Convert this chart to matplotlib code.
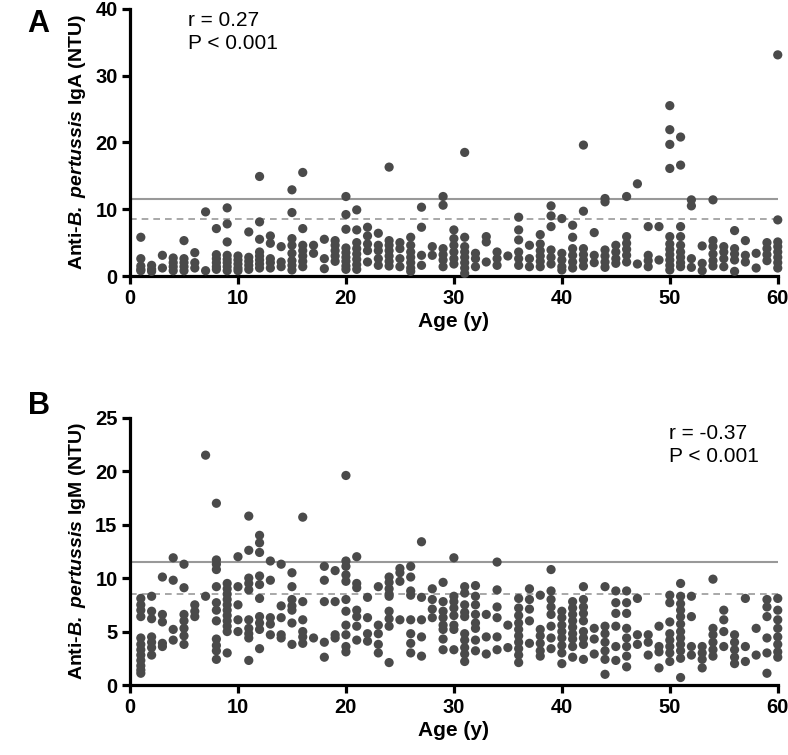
import matplotlib
matplotlib.use("Agg")
import matplotlib.pyplot as plt

plt.rcParams['font.family'] = ['Liberation Sans', 'DejaVu Sans']
plt.rcParams['mathtext.fontset'] = 'custom'
plt.rcParams['mathtext.rm'] = 'Liberation Sans:bold'
plt.rcParams['mathtext.bf'] = 'Liberation Sans:bold'
plt.rcParams['mathtext.bfit'] = 'Liberation Sans:italic:bold'

ages = list(range(1, 61))

# valores IgA por edad (1..60)
iga = [
    [5.8, 2.6, 1.5, 1.0, 0.8], [1.6, 1.0, 0.7], [3.1, 1.2], [2.7, 2.0, 1.4, 0.8],
    [5.3, 2.6, 2.0, 1.4, 0.8], [3.5, 2.0, 1.2], [9.6, 0.8], [7.1, 3.2, 2.6, 2.0, 1.4, 1.0],
    [10.2, 7.8, 5.1, 3.1, 2.5, 2.0, 1.4, 0.8], [3.0, 2.4, 1.8, 1.2, 0.8],
    [6.6, 2.8, 2.2, 1.6, 1.0], [14.9, 8.1, 5.5, 3.6, 3.0, 2.4, 1.8, 1.2],
    [6.0, 4.9, 2.6, 2.0, 1.2], [4.4, 2.1, 1.4], [12.9, 9.5, 5.6, 4.6, 3.4, 2.3, 1.6, 0.9],
    [15.5, 7.1, 4.6, 3.8, 3.0, 2.2, 1.4], [4.6, 3.4], [5.5, 2.6, 1.1],
    [5.3, 4.6, 3.8, 3.0, 2.2], [11.9, 9.2, 7.0, 4.2, 3.5, 2.8, 2.2, 1.5, 1.0],
    [9.9, 6.9, 5.0, 4.1, 3.3, 2.5, 1.7, 1.0], [7.3, 6.0, 4.8, 3.8, 2.1],
    [6.4, 4.6, 3.8, 2.6, 1.6], [16.3, 5.3, 4.6, 3.8, 3.0, 2.2, 1.5], [5.0, 4.1, 2.6, 1.4],
    [5.8, 4.6, 3.6, 2.8, 2.0, 1.2, 0.7], [10.3, 7.3, 3.1, 1.6], [4.4, 3.1],
    [11.9, 10.6, 4.1, 3.2, 2.4, 1.4], [6.9, 5.6, 4.6, 3.6, 2.6, 1.8],
    [18.5, 5.8, 4.4, 3.6, 2.8, 2.0, 1.2, 0.4], [3.4, 2.6, 1.4], [5.9, 5.1, 2.1],
    [3.6, 2.6, 1.6], [3.0], [8.8, 6.9, 5.4, 3.6, 2.6, 1.6], [4.6, 2.6, 1.4],
    [6.2, 4.8, 3.8, 3.0, 2.2, 1.4], [10.5, 9.0, 7.4, 3.9, 2.8, 1.8], [8.6, 3.4, 2.4, 1.4, 0.9],
    [7.6, 5.8, 4.1, 3.1, 2.1, 1.2], [19.6, 9.7, 4.1, 3.2, 2.4, 1.5], [6.5, 3.1, 2.0],
    [11.6, 11.1, 3.9, 3.0, 2.1, 1.3], [4.6, 3.6, 2.6, 1.9], [11.9, 5.9, 4.9, 4.0, 3.1, 2.1],
    [13.8, 1.8], [7.4, 3.1, 2.3, 1.4], [7.4, 2.4],
    [25.5, 21.9, 19.7, 16.1, 5.9, 4.8, 4.0, 3.2, 2.4, 1.6, 0.9],
    [20.8, 16.6, 7.4, 5.9, 4.6, 3.6, 2.8, 2.0, 1.4], [11.4, 10.5, 2.6, 1.3], [4.5, 1.9, 0.8],
    [11.4, 5.3, 4.4, 3.3, 2.3, 1.5], [4.4, 3.6, 2.6, 1.4], [6.8, 4.1, 3.3, 2.4, 0.7],
    [5.3, 3.1, 2.1], [3.4, 1.2], [5.0, 4.1, 3.2, 2.3], [33.1, 8.4, 5.1, 4.4, 3.6, 2.8, 2.0, 1.2],
]

# valores IgM por edad (1..60)
igm = [
    [8.1, 7.5, 7.0, 6.4, 4.4, 3.8, 3.3, 2.8, 2.3, 1.8, 1.4, 1.1], [8.3, 6.9, 6.2, 4.5, 4.0, 3.5, 2.8],
    [10.1, 6.6, 5.9, 3.9, 3.6], [11.9, 9.8, 5.2, 4.2], [11.3, 9.1, 6.6, 6.0, 5.3, 4.6, 3.8],
    [7.5, 6.9, 6.4], [21.5, 8.3], [17.0, 11.7, 11.3, 10.8, 9.2, 7.7, 7.0, 6.0, 4.3, 3.7, 3.2, 2.4],
    [9.5, 9.0, 8.5, 8.0, 7.5, 7.0, 6.5, 6.0, 5.5, 5.0, 3.0], [12.0, 9.2, 7.5, 6.1, 5.0],
    [15.8, 12.6, 10.0, 9.5, 8.9, 6.1, 5.3, 4.8, 4.4, 2.3], [14.0, 13.3, 12.4, 10.2, 9.4, 8.1, 6.4, 5.8, 5.2, 3.4],
    [11.6, 9.8, 6.3, 5.7, 4.7], [11.3, 7.4, 6.3, 4.7, 4.4], [10.5, 9.2, 8.0, 7.4, 7.0, 5.8, 3.8],
    [15.7, 7.8, 6.1, 5.0, 4.5, 3.9], [4.4], [11.1, 9.8, 7.8, 4.0, 2.6], [10.7, 7.8, 4.7, 4.4],
    [19.6, 11.6, 11.1, 10.3, 9.7, 8.0, 6.9, 5.6, 4.7, 3.6, 3.1], [12.0, 9.5, 9.1, 7.0, 6.4, 5.5, 4.2],
    [8.2, 6.3, 4.8, 4.1], [9.2, 5.6, 4.8, 3.8, 3.0], [10.1, 9.6, 9.0, 8.5, 8.3, 6.9, 6.2, 5.5, 2.1],
    [10.9, 10.5, 9.7, 6.1], [11.1, 10.1, 8.8, 8.4, 6.1, 4.8, 3.9, 3.0], [13.4, 8.2, 6.1, 4.5, 2.7],
    [9.0, 8.0, 7.1, 6.3], [9.6, 7.8, 6.9, 6.3, 5.6, 5.2, 4.3, 3.3], [11.9, 8.3, 7.8, 7.2, 6.5, 5.6, 5.2, 3.3],
    [9.2, 8.6, 7.5, 6.8, 6.4, 4.8, 4.2, 3.5, 2.9, 2.2], [9.3, 8.3, 7.5, 6.6, 5.8, 5.3, 4.2, 3.2],
    [6.6, 4.5, 2.9], [11.5, 8.9, 7.3, 6.3, 4.5, 3.3], [5.6, 3.5],
    [8.1, 7.2, 6.5, 5.8, 5.2, 4.6, 4.0, 3.4, 2.8, 2.1], [9.0, 8.0, 7.1, 6.0, 3.9],
    [8.4, 5.2, 4.6, 3.9, 3.2, 2.7], [10.8, 8.8, 8.0, 7.3, 6.6, 5.5, 4.4, 3.4],
    [6.9, 6.3, 5.6, 5.0, 4.4, 3.7, 3.0, 2.0], [7.8, 7.2, 6.6, 6.0, 5.4, 4.8, 4.3, 3.6, 2.6],
    [9.2, 8.0, 7.3, 6.7, 6.0, 5.0, 4.4, 3.8, 2.4], [5.3, 4.3, 2.9], [9.2, 5.5, 4.8, 4.0, 3.2, 2.4, 1.0],
    [8.8, 7.7, 6.7, 5.5, 3.6, 2.3], [8.8, 7.7, 6.7, 5.3, 4.4, 3.6, 2.7, 1.7], [8.1, 4.7, 3.8],
    [4.7, 4.0, 2.8], [5.5, 3.6, 3.1, 1.6], [8.4, 7.7, 5.9, 4.8, 4.2, 3.6, 3.0, 2.2],
    [9.5, 8.3, 7.6, 7.0, 6.4, 5.7, 5.0, 4.4, 3.8, 3.2, 2.5, 0.7], [8.3, 6.4, 3.6, 2.8],
    [3.6, 3.0, 2.4, 1.6], [9.9, 5.3, 4.7, 4.0, 3.3, 2.7], [7.0, 6.1, 5.0, 3.6],
    [4.7, 4.0, 3.3, 2.6, 2.0], [8.1, 3.6, 2.2], [5.3, 2.8], [8.0, 7.3, 6.4, 4.4, 3.0, 1.1],
    [8.1, 7.0, 6.1, 5.3, 4.5, 3.8, 3.1, 2.6],
]

paneles = [
    ('A', iga, 40, 10, 'IgA', 'r = 0.27\nP < 0.001', (5.4, 39.6), 0.6344, 1.0),
    ('B', igm, 25, 5, 'IgM', 'r = -0.37\nP < 0.001', (49.9, 24.4), 0.0927, 1.1),
]

fig = plt.figure(figsize=(7.88, 7.55), dpi=100)
color = '#4a4a4a'

for letra, datos, ymax, paso, nombre, texto, pos, abajo, ly in paneles:
    ax = fig.add_axes([0.165, abajo, 0.822, 0.354])
    xs = [a for a, vals in zip(ages, datos) for v in vals]
    ys = [v for vals in datos for v in vals]
    ax.axhline(11.5, color='#999999', lw=1.5, zorder=1)
    ax.axhline(8.5, color='#999999', lw=1.2, ls=(0, (4, 3)), zorder=1)
    ax.scatter(xs, ys, s=44, color=color, edgecolors='none', zorder=3, clip_on=False)
    ax.set_xlim(0, 60)
    ax.set_ylim(0, ymax)
    ax.set_xticks(range(0, 61, 10))
    ax.set_yticks(range(0, ymax + 1, paso))
    for s in ['top', 'right']:
        ax.spines[s].set_visible(False)
    for s in ['left', 'bottom']:
        ax.spines[s].set_linewidth(2.3)
    ax.tick_params(width=2.3, length=6, labelsize=14.5, pad=3)
    for lab in ax.get_xticklabels() + ax.get_yticklabels():
        lab.set_fontweight('bold')
    ax.set_xlabel('Age (y)', fontsize=15, fontweight='bold', labelpad=3)
    ax.set_ylabel(r'Anti-$\mathbfit{B.\;pertussis}$ ' + nombre + ' (NTU)',
                  fontsize=14, fontweight='bold', labelpad=5)
    ax.text(pos[0], pos[1], texto, fontsize=15, va='top', ha='left', linespacing=1.25)
    ax.text(-0.158, ly, letra, transform=ax.transAxes, fontsize=22,
            fontweight='bold', va='top', ha='left')

fig.savefig('out.png', dpi=100)
